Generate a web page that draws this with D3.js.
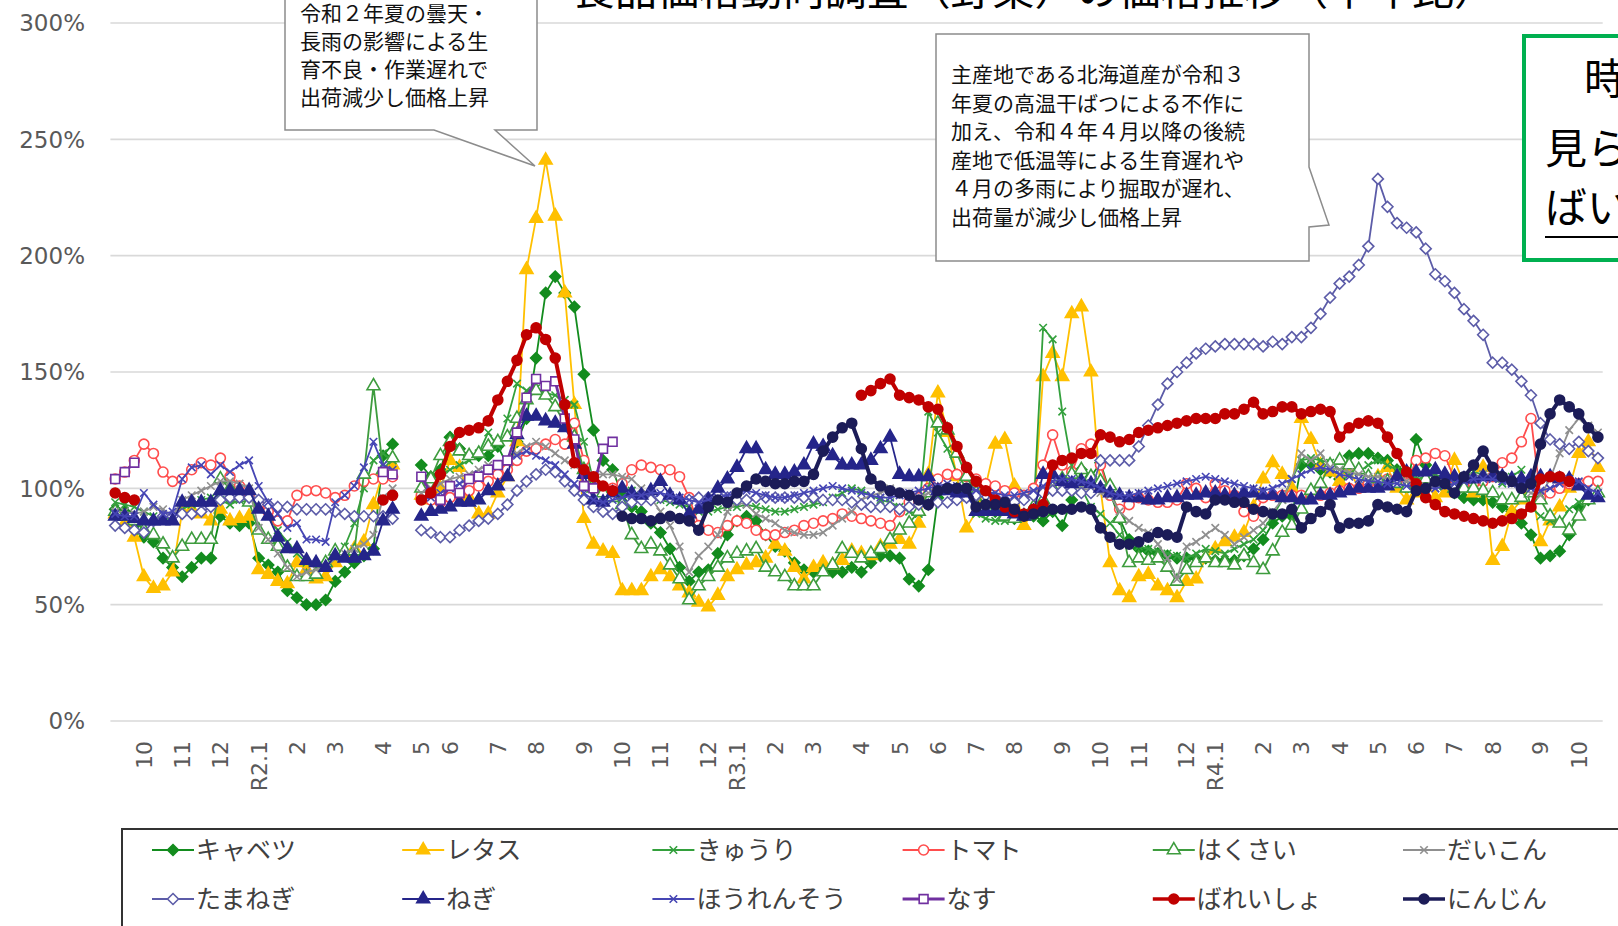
<!DOCTYPE html>
<html>
<head>
<meta charset="utf-8">
<script src="https://cdn.jsdelivr.net/npm/d3@7"></script>
<style>
  body { margin: 0; background: #fff; }
  svg { display: block; }
</style>
</head>
<body>
<div id="canvas"></div>
<script>
const N = null;

// week axis: 156 weekly points (Sep 2019 - Oct 2022), only month starts labelled
const weekCount = 156;
const tickIdx    = [3, 7, 11, 15, 19, 23, 28, 32, 35, 40, 44, 49, 53, 57, 62, 65, 69, 73, 78, 82, 86, 90, 94, 99, 103, 107, 112, 115, 120, 124, 128, 132, 136, 140, 144, 149, 153];
const tickLabels = ["10","11","12","R2.1","2","3","4","5","6","7","8","9","10","11","12","R3.1","2","3","4","5","6","7","8","9","10","11","12","R4.1","2","3","4","5","6","7","8","9","10"];
const yTicks = [0, 50, 100, 150, 200, 250, 300];

const names = ["キャベツ","レタス","きゅうり","トマト","はくさい","だいこん","たまねぎ","ねぎ","ほうれんそう","なす","ばれいしょ","にんじん"];

const cabbage = [
  91,90,84,79,77,70,66,62,66,70,70,88,
  85,84,85,70,67,64,56,53,50,50,52,60,
  64,68,71,74,114,119,N,N,110,105,108,122,
  117,114,114,114,118,110,120,130,156,184,191,184,
  178,149,125,112,108,97,92,90,85,81,74,66,
  60,64,65,72,80,86,88,86,80,75,73,68,
  65,64,65,64,64,66,64,68,71,71,70,61,
  58,65,96,100,100,98,95,92,90,88,87,88,
  88,86,90,84,95,108,105,111,98,87,78,74,
  73,72,71,70,70,70,70,69,69,69,71,74,
  78,85,88,88,110,110,108,107,104,114,115,115,
  113,112,108,100,121,110,103,100,98,96,95,95,
  94,92,90,85,80,70,71,73,80,92,95,97];
const lettuce = [
  89,85,79,62,57,58,64,90,91,89,86,91,
  86,87,88,65,63,60,59,68,65,61,62,68,
  72,74,77,93,107,110,N,N,97,95,100,112,
  109,96,89,89,98,105,120,194,216,241,217,184,
  136,87,76,73,72,56,56,56,62,65,62,58,
  55,51,49,54,62,65,67,68,70,76,73,66,
  61,66,68,67,69,73,72,71,75,76,78,76,
  85,106,141,124,105,83,90,101,119,121,101,84,
  90,148,158,148,175,178,150,100,68,56,53,62,
  63,58,56,53,60,61,70,74,77,79,81,92,
  104,111,106,100,130,121,110,107,103,108,100,103,
  105,109,100,95,98,103,96,98,112,102,98,109,
  69,75,90,95,103,77,86,92,100,115,120,109];
const cucumber = [
  94,93,92,90,88,86,88,91,93,95,96,95,
  93,95,96,92,88,82,77,72,68,66,66,70,
  75,85,100,112,115,112,N,N,96,100,106,108,
  110,112,115,124,118,130,145,142,143,141,140,138,
  136,120,103,98,96,100,99,97,96,95,94,93,
  92,90,90,91,92,92,93,92,91,90,90,91,
  92,93,94,96,98,100,99,97,95,94,92,90,
  89,133,124,117,106,100,89,87,86,86,87,88,
  90,169,164,133,110,100,92,89,85,80,76,75,
  74,73,72,71,70,72,74,73,72,74,76,78,
  82,88,95,104,112,113,112,111,108,106,107,110,
  112,110,108,106,104,105,106,104,103,105,107,106,
  104,102,105,108,92,88,86,85,91,94,96,96];
const tomato = [
  104,107,112,119,115,107,103,104,108,111,110,113,
  105,101,97,93,90,86,86,97,99,99,98,96,
  97,101,103,104,104,105,N,N,97,95,94,96,
  97,99,101,103,106,108,112,116,117,119,121,119,
  128,112,103,100,100,102,108,110,109,108,108,105,
  96,84,82,81,84,86,85,82,80,80,81,82,
  84,85,86,87,89,88,87,86,85,84,90,94,
  96,100,104,106,106,105,104,102,101,99,98,97,
  100,110,123,110,107,117,119,110,97,91,93,96,
  95,94,94,95,102,100,96,102,99,97,90,88,
  96,97,97,97,97,97,97,98,99,100,100,102,
  103,104,104,102,112,113,115,114,104,102,102,103,
  105,111,113,120,130,96,98,100,102,102,103,103];
const hakusai = [
  90,88,86,82,80,76,70,75,78,78,78,104,
  100,96,94,82,78,75,66,62,62,63,68,73,
  73,73,106,144,108,113,N,N,100,104,114,120,
  116,114,115,118,120,122,130,138,142,140,135,128,
  122,108,100,98,96,93,80,74,76,73,67,61,
  52,58,62,66,70,72,73,74,66,64,62,58,
  58,58,64,67,74,72,70,72,74,78,82,85,
  90,98,128,125,115,105,98,92,90,88,87,88,
  92,95,100,104,106,108,105,103,101,87,68,70,
  69,70,66,60,65,68,70,68,68,67,71,68,
  65,73,81,84,91,99,102,110,112,110,108,105,
  104,103,102,100,102,104,103,102,100,100,100,99,
  98,95,95,96,98,95,88,85,82,88,95,98];
const daikon = [
  90,90,89,90,92,91,88,95,97,99,101,103,
  103,102,100,83,78,72,66,62,64,65,66,70,
  72,74,76,80,96,100,N,N,98,100,102,104,
  105,106,108,110,110,112,115,118,120,118,115,112,
  110,108,106,106,106,105,104,100,96,90,84,75,
  64,71,75,80,90,94,93,89,87,85,82,81,
  80,80,81,84,87,90,95,97,98,100,98,97,
  96,98,99,100,98,96,94,93,92,92,94,96,
  98,100,101,102,101,100,99,98,97,90,86,83,
  81,76,70,61,75,77,80,83,80,76,79,82,
  85,90,95,104,115,112,115,109,108,107,106,105,
  105,104,104,103,102,101,100,101,102,103,105,106,
  106,104,102,100,98,97,104,115,125,130,127,124];
const onion = [
  84,83,82,81,86,88,88,89,89,90,92,95,
  96,96,96,95,93,92,92,91,91,91,91,90,
  89,88,88,88,88,87,N,N,82,81,79,79,
  82,84,86,87,89,93,99,103,106,108,107,103,
  99,95,92,90,89,92,94,95,95,96,96,95,
  95,96,96,97,96,95,95,96,96,96,96,96,
  96,96,95,95,95,94,93,92,92,92,91,92,
  93,93,94,94,95,96,97,97,96,95,94,95,
  97,98,99,99,99,98,98,112,112,112,112,118,
  127,136,145,150,154,158,160,161,162,162,162,162,
  161,163,162,165,165,169,175,182,188,191,196,204,
  233,221,214,212,210,203,192,189,184,177,172,166,
  154,154,151,146,140,128,121,119,117,120,116,113];
const negi = [
  88,88,87,86,86,86,86,94,94,94,94,99,
  99,99,99,91,88,79,74,74,69,68,66,71,
  70,70,71,73,86,91,N,N,88,90,91,92,
  94,94,95,99,101,105,123,131,131,129,128,126,
  119,106,95,94,98,100,98,97,99,103,97,95,
  89,91,95,100,104,109,117,117,108,106,106,107,
  110,119,118,114,110,110,110,112,117,122,106,105,
  105,105,99,99,98,98,90,90,90,90,89,88,
  90,106,106,103,102,103,102,100,98,97,96,96,
  95,95,96,96,97,97,98,98,97,97,98,98,
  97,97,96,96,95,95,97,97,98,99,100,100,
  100,101,105,107,107,107,108,106,105,104,104,105,
  105,105,104,104,105,105,105,104,104,101,97,96];
const spinach = [
  89,88,88,98,93,89,90,104,109,110,106,110,
  107,110,112,101,94,89,83,85,78,78,77,94,
  97,101,109,120,110,108,N,N,95,96,98,100,
  102,104,106,108,110,112,114,116,114,112,110,106,
  102,98,95,94,95,96,97,97,98,98,97,96,
  95,94,95,96,97,98,99,98,97,96,96,97,
  98,99,100,101,100,99,98,97,96,96,97,98,
  99,100,101,102,101,100,99,98,98,97,97,98,
  99,101,103,104,104,103,102,100,98,97,97,98,
  99,100,101,102,103,104,105,104,103,102,101,100,
  99,100,102,104,106,108,109,108,106,105,104,103,
  103,102,102,101,101,100,100,101,102,103,104,104,
  104,103,102,101,100,99,100,102,104,103,100,98];
const eggplant = [
  104,107,111,N,N,N,N,N,N,N,N,N,
  N,N,N,N,N,N,N,N,N,N,N,N,
  N,N,N,N,107,106,N,N,105,98,95,101,
  98,104,105,108,110,112,124,139,147,144,146,130,
  121,101,100,117,120,N,N,N,N,N,N,N,
  N,N,N,N,N,N,N,N,N,N,N,N,
  N,N,N,N,N,N,N,N,N,N,N,N,
  N,N,N,N,N,N,N,N,N,N,N,N,
  N,N,N,N,N,N,N,N,N,N,N,N,
  N,N,N,N,N,N,N,N,N,N,N,N,
  N,N,N,N,N,N,N,N,N,N,N,N,
  N,N,N,N,N,N,N,N,N,N,N,N,
  N,N,N,N,N,N,N,N,N,N,N,N];
const potato = [
  98,96,95,N,N,N,N,N,N,N,N,N,
  N,N,N,N,N,N,N,N,N,N,N,N,
  N,N,N,N,95,97,N,N,95,98,106,118,
  124,125,126,129,138,146,155,166,169,164,156,136,
  111,108,105,101,99,N,N,N,N,N,N,N,
  N,N,N,N,N,N,N,N,N,N,N,N,
  N,N,N,N,N,N,140,142,145,147,140,139,
  138,135,134,126,118,109,103,99,95,92,90,89,
  91,93,110,112,113,115,115,123,122,120,121,124,
  125,126,127,128,129,130,130,130,132,132,134,137,
  132,133,135,135,132,133,134,133,122,126,128,129,
  128,122,115,107,102,96,93,90,89,88,87,86,
  85,86,87,89,92,104,105,105,103,N,N,N];
const carrot = [
  N,N,N,N,N,N,N,N,N,N,N,N,
  N,N,N,N,N,N,N,N,N,N,N,N,
  N,N,N,N,N,N,N,N,N,N,N,N,
  N,N,N,N,N,N,N,N,N,N,N,N,
  N,N,N,N,N,88,87,87,86,87,88,87,
  86,82,92,95,94,98,101,104,103,102,102,103,
  103,106,116,122,126,128,117,104,101,99,98,97,
  95,93,99,100,100,100,92,93,93,94,91,88,
  89,90,91,91,91,92,91,83,79,76,76,77,
  79,81,80,79,92,90,89,95,95,94,94,91,
  90,89,89,91,83,87,90,93,83,85,85,86,
  93,92,91,90,99,100,103,102,98,105,110,116,
  109,105,103,100,102,119,132,138,135,132,126,122];

const seriesValues = [cabbage, lettuce, cucumber, tomato, hakusai, daikon, onion, negi, spinach, eggplant, potato, carrot];

const colors  = ["#138c1e","#ffc000","#33a03c","#ff4d4d","#3e9c3e","#8f8f8f","#5c5ca8","#25258a","#4646b4","#7030a0","#c00000","#1c1c58"];
const markers = ["diamond","triangle","x","circle","triangle","x","diamond","triangle","x","square","circle","circle"];
const filled  = [true,true,false,false,false,false,false,true,false,false,true,true];
const widths  = [1.8,1.8,1.8,1.8,1.8,1.8,1.8,1.8,1.8,2.8,4,4];

// marker shapes
const symDiamond = { draw(ctx, size) { const r = Math.sqrt(size) * 0.62;
  ctx.moveTo(0, -r); ctx.lineTo(r, 0); ctx.lineTo(0, r); ctx.lineTo(-r, 0); ctx.closePath(); } };
const symX = { draw(ctx, size) { const r = Math.sqrt(size) * 0.42;
  ctx.moveTo(-r, -r); ctx.lineTo(r, r); ctx.moveTo(-r, r); ctx.lineTo(r, -r); } };
const symType = { diamond: [symDiamond, 78], triangle: [d3.symbolTriangle, 72], x: [symX, 80],
                  circle: [d3.symbolCircle, 78], square: [d3.symbolSquare, 78] };

const width = 1618, height = 926;
const svg = d3.select("#canvas").append("svg").attr("width", width).attr("height", height);

const x = d3.scaleBand().domain(d3.range(weekCount)).range([110.4, 1602.7]);
const cx = i => x(i) + x.bandwidth() / 2;
const y = d3.scaleLinear().domain([0, 300]).range([721, 23]);

// gridlines + y labels
svg.append("g").selectAll("line").data(yTicks).enter().append("line")
  .attr("x1", 110.4).attr("x2", 1602.7)
  .attr("y1", d => y(d)).attr("y2", d => y(d))
  .attr("stroke", "#d9d9d9").attr("stroke-width", 1.6);

svg.append("g").selectAll("text").data(yTicks).enter().append("text")
  .attr("x", 85).attr("y", d => y(d)).attr("dy", "0.36em")
  .attr("text-anchor", "end")
  .style("font-family", "'DejaVu Sans', sans-serif").style("font-size", "23px").style("fill", "#595959")
  .text(d => d + "%");

// x axis (rotated month labels)
const xAxis = svg.append("g").attr("transform", "translate(0,741)")
  .call(d3.axisBottom(x).tickValues(tickIdx).tickSize(0).tickFormat((d, i) => tickLabels[i]));
xAxis.select(".domain").remove();
xAxis.selectAll("text")
  .attr("x", 0).attr("y", 0).attr("dy", "0.36em")
  .attr("transform", "rotate(-90)")
  .style("text-anchor", "end")
  .style("font-family", "'DejaVu Sans', sans-serif").style("font-size", "22px").style("fill", "#595959");

// series
const line = d3.line().defined(d => d.v != null).x(d => cx(d.i)).y(d => y(d.v));

seriesValues.forEach((vals, s) => {
  const pts = vals.map((v, i) => ({ i, v }));
  const g = svg.append("g");
  g.append("path").datum(pts)
    .attr("d", line).attr("fill", "none")
    .attr("stroke", colors[s]).attr("stroke-width", widths[s]).attr("stroke-linejoin", "round");
  const [type, size] = symType[markers[s]];
  g.selectAll("path.m").data(pts.filter(d => d.v != null)).enter().append("path")
    .attr("class", "m")
    .attr("transform", d => `translate(${cx(d.i)},${y(d.v)})`)
    .attr("d", d3.symbol().type(type).size(size))
    .attr("fill", markers[s] === "x" ? "none" : (filled[s] ? colors[s] : "#fff"))
    .attr("stroke", colors[s]).attr("stroke-width", 1.6);
});

// title (cut at top edge)
svg.append("text").attr("x", 573).attr("y", 5)
  .attr("textLength", 923).attr("lengthAdjust", "spacingAndGlyphs")
  .style("font-family", "'Noto Sans CJK JP', sans-serif").style("font-size", "40px").style("fill", "#000")
  .text("食品価格動向調査（野菜）の価格推移（平年比）");

// callout 1
svg.append("path")
  .attr("d", "M285,-5 L537,-5 L537,130 L495,130 L535,166 L434,130 L285,130 Z")
  .attr("fill", "#fff").attr("stroke", "#8c8c8c").attr("stroke-width", 1.5);
const note1 = ["令和２年夏の曇天・", "長雨の影響による生", "育不良・作業遅れで", "出荷減少し価格上昇"];
svg.append("g").selectAll("text").data(note1).enter().append("text")
  .attr("x", 300).attr("y", (d, i) => 21 + i * 28)
  .style("font-family", "'Noto Sans CJK JP', sans-serif").style("font-size", "21px").style("fill", "#111")
  .text(d => d);

// callout 2
svg.append("path")
  .attr("d", "M936,34 L1309,34 L1309,167 L1329,225 L1309,227 L1309,261 L936,261 Z")
  .attr("fill", "#fff").attr("stroke", "#8c8c8c").attr("stroke-width", 1.5);
const note2 = ["主産地である北海道産が令和３", "年夏の高温干ばつによる不作に", "加え、令和４年４月以降の後続",
               "産地で低温等による生育遅れや", "４月の多雨により掘取が遅れ、", "出荷量が減少し価格上昇"];
svg.append("g").selectAll("text").data(note2).enter().append("text")
  .attr("x", 951).attr("y", (d, i) => 82 + i * 28.6)
  .style("font-family", "'Noto Sans CJK JP', sans-serif").style("font-size", "21px").style("fill", "#111")
  .text(d => d);

// green note box (cut at right edge)
svg.append("rect").attr("x", 1524).attr("y", 36).attr("width", 140).attr("height", 224)
  .attr("fill", "#fff").attr("stroke", "#00b050").attr("stroke-width", 4);
const boxText = [["時", 1584, 94], ["見ら", 1545, 164], ["ばい", 1545, 223]];
svg.append("g").selectAll("text").data(boxText).enter().append("text")
  .attr("x", d => d[1]).attr("y", d => d[2])
  .style("font-family", "'Noto Sans CJK JP', sans-serif").style("font-size", "42px").style("fill", "#000")
  .text(d => d[0]);
svg.append("line").attr("x1", 1545).attr("x2", 1618).attr("y1", 237).attr("y2", 237)
  .attr("stroke", "#000").attr("stroke-width", 2);

// legend
svg.append("rect").attr("x", 122).attr("y", 829).attr("width", 1600).attr("height", 200)
  .attr("fill", "#fff").attr("stroke", "#333").attr("stroke-width", 2);
const leg = svg.append("g").selectAll("g").data(names).enter().append("g")
  .attr("transform", (d, i) => `translate(${152 + (i % 6) * 250.2},${850 + Math.floor(i / 6) * 49})`);
leg.append("line").attr("x1", 0).attr("x2", 42)
  .attr("stroke", (d, i) => colors[i]).attr("stroke-width", (d, i) => Math.min(widths[i], 3.6));
leg.append("path")
  .attr("transform", "translate(21,0)")
  .attr("d", (d, i) => d3.symbol().type(symType[markers[i]][0]).size(symType[markers[i]][1])())
  .attr("fill", (d, i) => markers[i] === "x" ? "none" : (filled[i] ? colors[i] : "#fff"))
  .attr("stroke", (d, i) => colors[i]).attr("stroke-width", 1.6);
leg.append("text").attr("x", 44).attr("dy", "0.36em")
  .style("font-family", "'Noto Sans CJK JP', sans-serif").style("font-size", "25px").style("fill", "#404040")
  .text(d => d);
</script>
</body>
</html>
